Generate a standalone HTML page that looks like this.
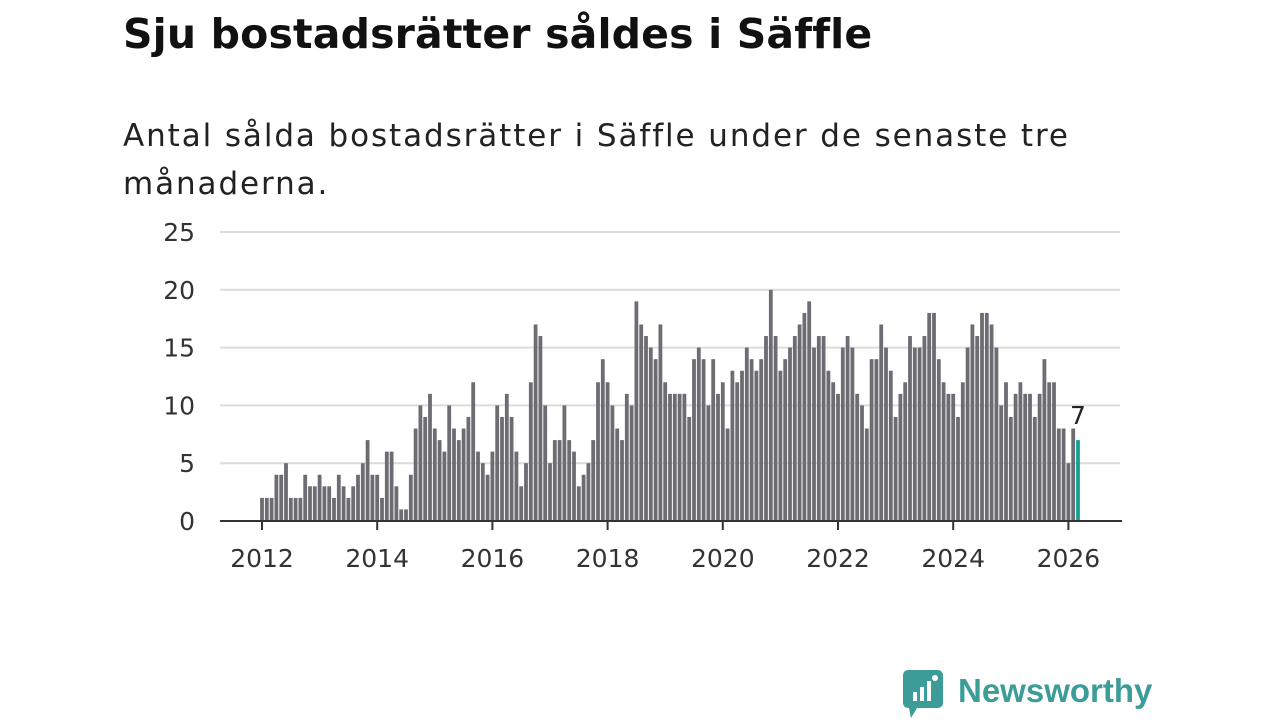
<!DOCTYPE html>
<html><head><meta charset="utf-8"><style>
body{margin:0;background:#fff;width:1280px;height:720px;overflow:hidden;font-family:"DejaVu Sans",sans-serif;}
#title{position:absolute;left:123px;top:10px;font-size:41px;font-weight:bold;color:#111;margin:0;letter-spacing:0.15px;font-family:"DejaVu Sans",sans-serif}
#sub{position:absolute;left:123px;top:112px;font-size:31px;line-height:48px;color:#222;width:1150px;letter-spacing:1.9px;font-family:"DejaVu Sans",sans-serif}
svg{position:absolute;left:0;top:0}
#logo{position:absolute;left:903px;top:670px;display:flex;align-items:center}
</style></head><body>
<h1 id="title">Sju bostadsrätter såldes i Säffle</h1>
<div id="sub">Antal sålda bostadsrätter i Säffle under de senaste tre<br>månaderna.</div>
<svg id="chart" width="1280" height="720"></svg>
<div id="logo">
<svg width="42" height="50" style="position:static"><rect x="0" y="0" width="40" height="38" rx="5" fill="#3c9c98"/><polygon points="6,38 14,38 8,48" fill="#3c9c98"/><rect x="10" y="22" width="4" height="9" fill="#fff"/><rect x="17" y="17" width="4" height="14" fill="#fff"/><rect x="24" y="11" width="4" height="20" fill="#fff"/><circle cx="32" cy="8" r="3" fill="#fff"/></svg>
<span style="font-size:33px;font-weight:bold;color:#3c9c98;margin-left:13px;margin-top:-8px;font-family:'Liberation Sans',sans-serif">Newsworthy</span>
</div>
<script>
const values=[2,2,2,4,4,5,2,2,2,4,3,3,
4,3,3,2,4,3,2,3,4,5,7,4,
4,2,6,6,3,1,1,4,8,10,9,11,
8,7,6,10,8,7,8,9,12,6,5,4,
6,10,9,11,9,6,3,5,12,17,16,10,
5,7,7,10,7,6,3,4,5,7,12,14,
12,10,8,7,11,10,19,17,16,15,14,17,
12,11,11,11,11,9,14,15,14,10,14,11,
12,8,13,12,13,15,14,13,14,16,20,16,
13,14,15,16,17,18,19,15,16,16,13,12,
11,15,16,15,11,10,8,14,14,17,15,13,
9,11,12,16,15,15,16,18,18,14,12,11,
11,9,12,15,17,16,18,18,17,15,10,12,
9,11,12,11,11,9,11,14,12,12,8,8,
5,8,7];
const startYear=2012;
const yTicks=[0,5,10,15,20,25];
const xTicks=[2012,2014,2016,2018,2020,2022,2024,2026];
const NS="http://www.w3.org/2000/svg";
const svg=document.getElementById('chart');
const X=t=>262+(t-2012)*57.6;
const Y=v=>521-v*11.56;
function mk(tag,attrs){const e=document.createElementNS(NS,tag);for(const k in attrs)e.setAttribute(k,attrs[k]);svg.appendChild(e);return e;}
yTicks.forEach(v=>{
 if(v>0){const g=mk('line',{x1:220,x2:1120,y1:Y(v),y2:Y(v),stroke:'#dcdcdc','stroke-width':2});
 
 }
 const t=mk('text',{x:195,y:Y(v)+9,'text-anchor':'end','font-size':25,fill:'#333','font-family':'DejaVu Sans, sans-serif'});
 t.textContent=v;
 
 
});
values.forEach((v,i)=>{
 const cx=X(startYear+i/12);
 const last=i===values.length-1;
 const r=mk('rect',{x:cx-1.9,y:Y(v),width:3.8,height:v*11.56,fill:last?'#13a195':'#6d6c72'});
 
 
 if(last){const l=mk('text',{x:cx,y:Y(v)-16,'text-anchor':'middle','font-size':25,fill:'#222','font-family':'DejaVu Sans, sans-serif'});
 l.textContent=v;
 
 }
});
const ax=mk('line',{x1:220,x2:1122,y1:521,y2:521,stroke:'#333','stroke-width':2});


xTicks.forEach(y=>{
 const tk=mk('line',{x1:X(y),x2:X(y),y1:521,y2:530,stroke:'#333','stroke-width':2});
 
 
 const t=mk('text',{x:X(y),y:567,'text-anchor':'middle','font-size':25,fill:'#333','font-family':'DejaVu Sans, sans-serif'});
 t.textContent=y;
 
 
});
</script>
</body></html>
